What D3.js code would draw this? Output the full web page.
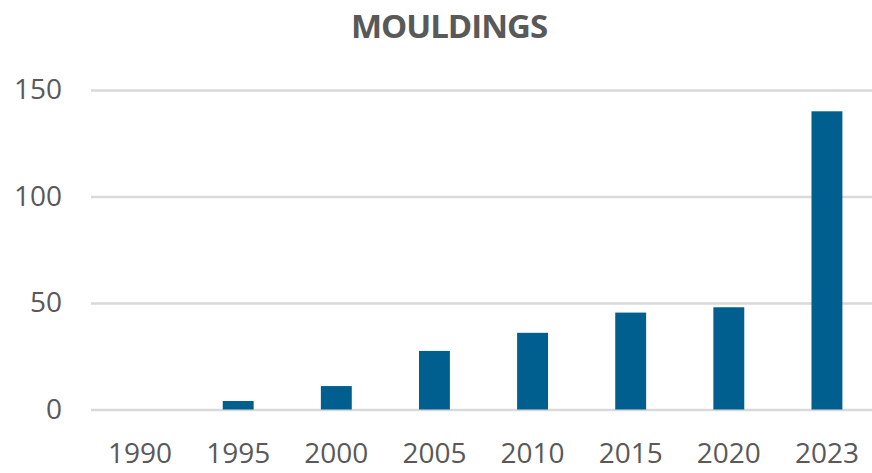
<!DOCTYPE html>
<html>
<head>
<meta charset="utf-8">
<script src="https://cdn.jsdelivr.net/npm/d3@7"></script>
<style>
  html, body { margin: 0; padding: 0; background: #fff; }
  svg { display: block; }
</style>
</head>
<body>
<div id="chart"></div>
<script>
// data
const years = ["1990", "1995", "2000", "2005", "2010", "2015", "2020", "2023"];
const values = [0, 4, 11, 27.5, 36, 45.5, 48, 140];
const yTicks = [0, 50, 100, 150];

const width = 872, height = 473;
const margin = {top: 90, right: -4, bottom: 63.5, left: 91};

const svg = d3.select("#chart")
    .append("svg")
    .attr("width", width)
    .attr("height", height);

const textColor = "#595959";
const font = "'Open Sans', sans-serif";

//title
svg.append("text")
    .attr("x", 449)
    .attr("y", 38)
    .attr("text-anchor", "middle")
    .attr("font-family", font)
    .attr("font-weight", "bold")
    .attr("font-size", "33px")
    .attr("letter-spacing", "-1px")
    .attr("fill", textColor)
    .text("MOULDINGS");

const xScale = d3.scaleBand()
    .domain(years)
    .range([margin.left, width - margin.right])
    .paddingInner(0.685)
    .paddingOuter(0.3425);

const yScale = d3.scaleLinear()
    .domain([0, 150])
    .range([height - margin.bottom, margin.top]);

//gridlines + y labels
const yAxis = svg.append("g")
    .attr("transform", `translate(${margin.left},0)`)
    .call(d3.axisLeft(yScale)
        .tickValues(yTicks)
        .tickSize(-(width - margin.left - margin.right))
        .tickPadding(29));

yAxis.select(".domain").remove();
yAxis.selectAll("line")
    .attr("stroke", "#d9d9d9")
    .attr("stroke-width", 2.5);
yAxis.selectAll("text")
    .attr("font-family", font)
    .attr("font-size", "28px")
    .attr("fill", textColor);

//bars
svg.append("g")
    .selectAll("rect")
    .data(values)
    .enter()
    .append("rect")
    .attr("x", (d, i) => xScale(years[i]))
    .attr("y", d => yScale(d))
    .attr("width", xScale.bandwidth())
    .attr("height", d => yScale(0) - yScale(d))
    .attr("fill", "#005f8f");

//x labels
const xAxis = svg.append("g")
    .attr("transform", `translate(0,${yScale(0)})`)
    .call(d3.axisBottom(xScale).tickSize(0).tickPadding(34));

xAxis.select(".domain").remove();
xAxis.selectAll("text")
    .attr("font-family", font)
    .attr("font-size", "28px")
    .attr("fill", textColor);
</script>
</body>
</html>
